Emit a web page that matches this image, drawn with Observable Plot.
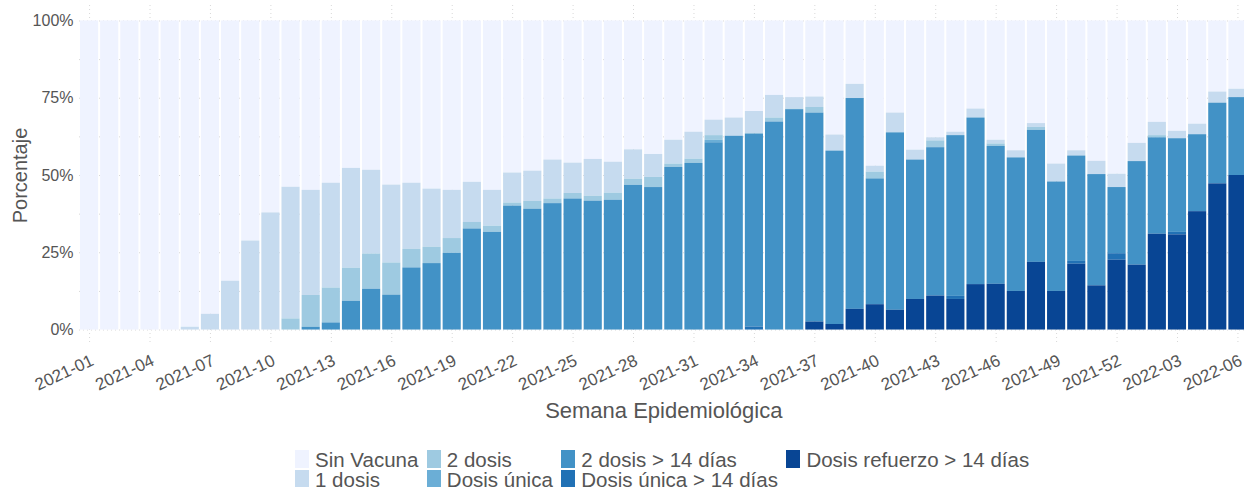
<!DOCTYPE html>
<html>
<head>
<meta charset="utf-8">
<script src="https://cdn.jsdelivr.net/npm/d3@7"></script>
<script src="https://cdn.jsdelivr.net/npm/@observablehq/plot@0.6"></script>
<style>
  html, body { margin: 0; padding: 0; background: white; overflow: hidden; }
  #wrap { position: relative; width: 1244px; height: 487px; font-family: "Liberation Sans", Arial, sans-serif; color: #555; overflow: hidden; }
  #legend { position: absolute; left: 295px; top: 450px; display: grid; grid-auto-flow: column; grid-template-rows: 20px 17px; column-gap: 8.5px; }
  .item { display: flex; align-items: flex-start; }
  .sw { width: 14px; height: 18px; margin-right: 6px; flex: none; }
  .lab { font-size: 20.5px; line-height: 20px; white-space: nowrap; color: #555; }
</style>
</head>
<body>
<div id="wrap"><div id="chart"></div><div id="legend"></div></div>
<script>
const weeks = [
  "2021-01","2021-02","2021-03","2021-04","2021-05","2021-06","2021-07","2021-08","2021-09","2021-10",
  "2021-11","2021-12","2021-13","2021-14","2021-15","2021-16","2021-17","2021-18","2021-19","2021-20",
  "2021-21","2021-22","2021-23","2021-24","2021-25","2021-26","2021-27","2021-28","2021-29","2021-30",
  "2021-31","2021-32","2021-33","2021-34","2021-35","2021-36","2021-37","2021-38","2021-39","2021-40",
  "2021-41","2021-42","2021-43","2021-44","2021-45","2021-46","2021-47","2021-48","2021-49","2021-50",
  "2021-51","2021-52","2022-01","2022-02","2022-03","2022-04","2022-05","2022-06"
];
const xTicks = ["2021-01","2021-04","2021-07","2021-10","2021-13","2021-16","2021-19","2021-22","2021-25",
  "2021-28","2021-31","2021-34","2021-37","2021-40","2021-43","2021-46","2021-49","2021-52","2022-03","2022-06"];
const yTicks = [0, 25, 50, 75, 100];
const yGrid = [0, 12.5, 25, 37.5, 50, 62.5, 75, 87.5, 100];

// Percent of each category per week
const sinVacuna = [100,100,100,100,100,99.1,94.9,84.2,71.2,62.1,
  53.8,54.8,52.5,47.7,48.3,53.1,52.5,54.4,54.8,52.2,
  54.8,49.2,48.6,45.0,46.0,44.8,45.7,41.7,43.2,38.6,
  36.0,32.1,31.4,29.3,24.1,24.8,24.6,36.9,20.5,47.0,
  29.8,41.8,37.8,36.0,28.5,38.6,42.0,33.2,46.3,42.0,
  45.4,49.6,39.6,32.8,35.7,33.4,23.0,22.1];
const unaDosis = [0,0,0,0,0,0.9,5.1,15.8,28.8,37.9,
  42.6,34.0,33.9,32.3,27.1,25.2,21.4,18.8,15.6,13.0,
  11.6,9.7,9.8,12.6,9.8,11.9,10.0,9.5,7.4,7.7,
  8.7,5.0,5.9,7.1,7.3,3.7,3.4,5.2,4.6,1.9,
  6.4,3.2,1.0,1.1,2.9,1.2,2.3,1.2,5.8,1.7,
  4.3,4.3,5.9,4.3,2.4,3.4,3.6,2.7];
const dosDosis = [0,0,0,0,0,0,0,0,0,0,
  3.6,10.3,11.3,10.7,11.4,10.4,6.0,5.3,4.8,2.1,
  2.0,1.0,2.5,1.5,1.8,1.6,2.3,2.0,3.3,1.1,
  1.4,1.5,0,0.2,1.3,0.2,1.8,0,0,2.2,
  0,0,2.2,0,0,0.8,0,1.0,0,0,
  0,0,0,0.7,0,0,0,0];
const dosisUnica = [0,0,0,0,0,0,0,0,0,0,
  0,0,0,0,0,0,0,0,0,0,
  0,0,0,0,0,0,0,0,0,0,
  0,0.8,0,0,0,0,0,0,0,0,
  0,0,0,0,0,0,0,0,0,0,
  0,0,0,0,0,0,0,0];
const dosDosis14 = [0,0,0,0,0,0,0,0,0,0,
  0,0.9,2.3,9.3,13.2,11.3,20.1,21.5,24.8,32.7,
  31.6,40.1,39.1,40.9,42.4,41.7,42.0,46.8,46.1,52.6,
  53.9,60.6,62.7,62.4,67.3,71.3,67.6,56.1,68.2,40.7,
  57.4,45.1,48.0,52.0,53.9,44.6,43.2,42.7,35.4,34.1,
  36.0,21.4,33.5,31.2,30.3,24.9,26.1,25.2];
const dosisUnica14 = [0,0,0,0,0,0,0,0,0,0,
  0,0,0,0,0,0,0,0,0,0,
  0,0,0,0,0,0,0,0,0,0,
  0,0,0,1.0,0,0,0,0,0,0,
  0,0,0,1.0,0,0,0,0,0,0.9,
  0,2.1,0,0,0.8,0,0,0];
const refuerzo14 = [0,0,0,0,0,0,0,0,0,0,
  0,0,0,0,0,0,0,0,0,0,
  0,0,0,0,0,0,0,0,0,0,
  0,0,0,0,0,0,2.6,1.8,6.7,8.2,
  6.4,9.9,11.0,9.9,14.7,14.8,12.5,21.9,12.5,21.3,
  14.3,22.6,21.0,31.0,30.8,38.3,47.3,50.0];

const seriesNames = ["Sin Vacuna","1 dosis","2 dosis","Dosis única","2 dosis > 14 días","Dosis única > 14 días","Dosis refuerzo > 14 días"];
const seriesValues = [sinVacuna, unaDosis, dosDosis, dosisUnica, dosDosis14, dosisUnica14, refuerzo14];
const colors = ["#eff3ff","#c6dbef","#9ecae1","#6baed6","#4292c6","#2171b5","#084594"];
const stackOrder = seriesNames.slice().reverse();

const data = [];
seriesNames.forEach((s, j) => {
  weeks.forEach((w, i) => data.push({week: w, serie: s, value: seriesValues[j][i]}));
});

const font = "'Liberation Sans', Arial, sans-serif";
const chart = Plot.plot({
  width: 1244,
  height: 440,
  marginLeft: 79,
  marginRight: -3.5,
  marginTop: 5,
  marginBottom: 95,
  style: {fontFamily: font, color: "#555", background: "white", overflow: "visible"},
  x: {type: "band", domain: weeks, paddingInner: 0.1, paddingOuter: 0.05, round: false, axis: null},
  y: {domain: [-5, 105], axis: null},
  color: {domain: seriesNames, range: colors},
  marks: [
    Plot.gridY(yGrid, {stroke: "#d8d8d8", strokeOpacity: 1, strokeDasharray: "1,3"}),
    Plot.gridX(xTicks, {stroke: "#d8d8d8", strokeOpacity: 1, strokeDasharray: "1,3"}),
    Plot.barY(data, Plot.stackY({x: "week", y: "value", fill: "serie", order: stackOrder})),
    Plot.axisY(yTicks, {tickFormat: d => d + "%", tickSize: 0, tickPadding: 6, fontSize: 16, label: null, fill: "#555"}),
    Plot.text(xTicks, {x: d => d, text: d => d, frameAnchor: "bottom", rotate: -25,
      textAnchor: "end", lineAnchor: "middle", dx: 3, dy: 14, fontSize: 17, fill: "#555"}),
    Plot.text(["Semana Epidemiológica"], {text: d => d, frameAnchor: "bottom", textAnchor: "middle",
      lineAnchor: "middle", dy: 65, fontSize: 22, fill: "#555"}),
    Plot.text(["Porcentaje"], {text: d => d, frameAnchor: "left", textAnchor: "middle", lineAnchor: "middle",
      rotate: -90, dx: -59, fontSize: 20, fill: "#555"})
  ]
});
document.getElementById("chart").appendChild(chart);

const legend = document.getElementById("legend");
seriesNames.forEach((s, j) => {
  const it = document.createElement("div");
  it.className = "item";
  const sw = document.createElement("div");
  sw.className = "sw";
  sw.style.background = colors[j];
  const lab = document.createElement("span");
  lab.className = "lab";
  lab.textContent = s;
  it.appendChild(sw);
  it.appendChild(lab);
  legend.appendChild(it);
});
</script>
</body>
</html>
